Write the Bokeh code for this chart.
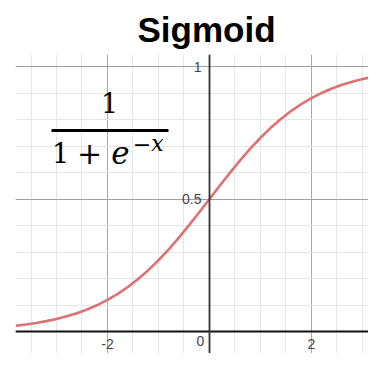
from bokeh.plotting import figure
from bokeh.models import (LinearAxis, Grid, FixedTicker, SingleIntervalTicker,
                          Range1d, Label, BoxAnnotation, ColumnDataSource)
from bokeh.embed import file_html
from bokeh.resources import INLINE

# ---- data ----
title_text = "Sigmoid"
x_vals = [-3.8, -3.6, -3.4, -3.2, -3.0, -2.8, -2.6, -2.4, -2.2, -2.0,
          -1.8, -1.6, -1.4, -1.2, -1.0, -0.8, -0.6, -0.4, -0.2, 0.0,
          0.2, 0.4, 0.6, 0.8, 1.0, 1.2, 1.4, 1.6, 1.8, 2.0,
          2.2, 2.4, 2.6, 2.8, 3.0, 3.2, 3.4, 3.6]
y_vals = [0.0219, 0.0266, 0.0323, 0.0392, 0.0474, 0.0573, 0.0691, 0.0832, 0.0998, 0.1192,
          0.1419, 0.1680, 0.1978, 0.2315, 0.2689, 0.3100, 0.3543, 0.4013, 0.4502, 0.5000,
          0.5498, 0.5987, 0.6457, 0.6900, 0.7311, 0.7685, 0.8022, 0.8320, 0.8581, 0.8808,
          0.9002, 0.9168, 0.9309, 0.9427, 0.9526, 0.9608, 0.9677, 0.9734]
x_ticks = [-2, 2]
x_tick_labels = ["-2", "2"]
y_ticks = [0.5, 1]
y_tick_labels = ["0.5", "1"]
origin_label = "0"

source = ColumnDataSource(data=dict(x=x_vals, y=y_vals))

p = figure(width=368, height=353, output_backend="svg", toolbar_location=None,
           x_axis_type=None, y_axis_type=None,
           x_range=Range1d(-3.804, 3.118), y_range=Range1d(-0.0830, 1.0453),
           min_border_left=15, min_border_right=0, min_border_top=54, min_border_bottom=0)
p.outline_line_color = None
p.background_fill_color = "white"
p.border_fill_color = "white"

p.title.text = title_text
p.title.text_font = "Liberation Sans"
p.title.text_font_style = "bold"
p.title.text_font_size = "35px"
p.title.text_color = "#000000"
p.title.align = "left"
p.title.offset = 122
p.title.vertical_align = "bottom"
p.title.standoff = 12

# grids
xg = Grid(dimension=0, ticker=SingleIntervalTicker(interval=2, num_minor_ticks=4),
          grid_line_color="#a8a8a8", grid_line_width=1,
          minor_grid_line_color="#e6e6e6", minor_grid_line_width=1)
yg = Grid(dimension=1, ticker=SingleIntervalTicker(interval=0.5, num_minor_ticks=5),
          grid_line_color="#a0a0a0", grid_line_width=1,
          minor_grid_line_color="#e6e6e6", minor_grid_line_width=1)
p.add_layout(xg)
p.add_layout(yg)

p.line("x", "y", source=source, line_color="#dc7272", line_width=2.6)

# axes through origin
xaxis = LinearAxis(fixed_location=0, ticker=FixedTicker(ticks=x_ticks),
                   major_label_overrides={t: l for t, l in zip(x_ticks, x_tick_labels)},
                   axis_line_color="#111111", axis_line_width=1.8,
                   major_tick_line_color=None, minor_tick_line_color=None,
                   major_label_text_font="Liberation Sans",
                   major_label_text_font_size="14px",
                   major_label_text_color="#444444",
                   major_label_standoff=1)
yaxis = LinearAxis(fixed_location=0, ticker=FixedTicker(ticks=y_ticks),
                   major_label_overrides={t: l for t, l in zip(y_ticks, y_tick_labels)},
                   axis_line_color="#333333", axis_line_width=1.8,
                   major_tick_line_color=None, minor_tick_line_color=None,
                   major_label_text_font="Liberation Sans",
                   major_label_text_font_size="14px",
                   major_label_text_color="#444444",
                   major_label_standoff=2)
p.add_layout(xaxis, "below")
p.add_layout(yaxis, "left")

p.add_layout(Label(x=0, y=0, x_offset=-9, y_offset=-4, text=origin_label,
                   text_align="center", text_baseline="top",
                   text_font="Liberation Sans", text_font_size="14px",
                   text_color="#444444"))

# formula 1 / (1 + e^{-x})
serif = "DejaVu Serif"
def lab(x, y, t, size, style="normal", align="center"):
    p.add_layout(Label(x=x, y=y, x_units="screen", y_units="screen", text=t,
                       text_align=align, text_baseline="alphabetic",
                       text_font=serif, text_font_size=size, text_font_style=style,
                       text_color="#000000"))

lab(94, 251, "1", "27px")
p.add_layout(BoxAnnotation(left=36, right=153, bottom=221.5, top=224.5,
                           left_units="screen", right_units="screen",
                           bottom_units="screen", top_units="screen",
                           fill_color="black", fill_alpha=1, line_color=None))
lab(45, 201, "1", "27px")
lab(74, 201, "+", "30px")
lab(105, 201, "e", "31px", "italic")
lab(126.5, 210, "\u2212", "22px")
lab(142, 210, "x", "22px", "italic")

open("out.html", "w").write(file_html(p, INLINE))
